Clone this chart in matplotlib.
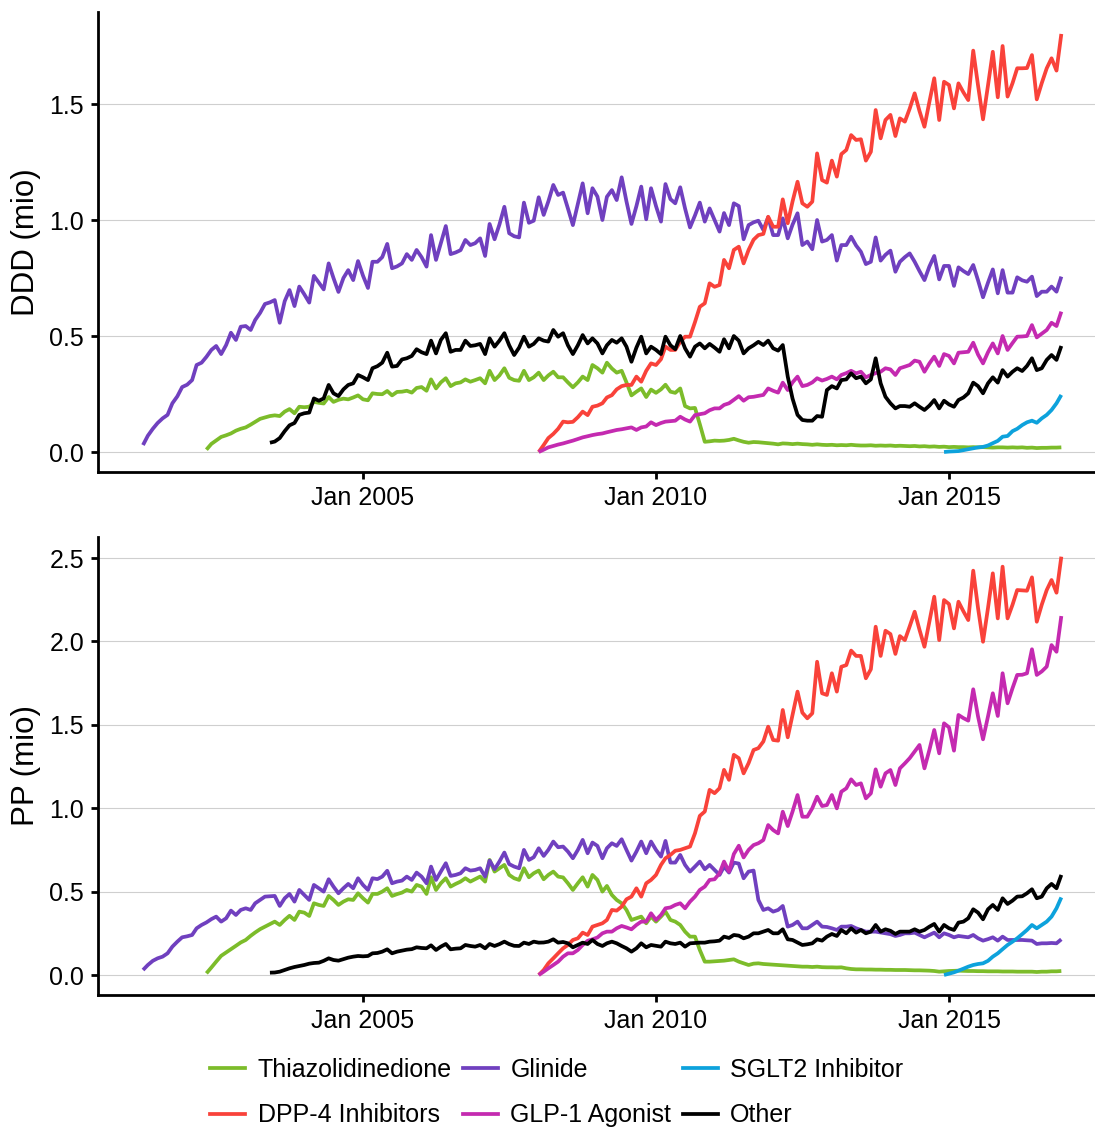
import numpy as np
import pandas as pd
import matplotlib
matplotlib.use("Agg")
import matplotlib.pyplot as plt
import matplotlib.dates as mdates
from matplotlib.lines import Line2D

plt.rcParams['font.family'] = ['Liberation Sans', 'DejaVu Sans']

SERIES = ["Thiazolidinedione", "Glinide", "SGLT2 Inhibitor",
          "DPP-4 Inhibitors", "GLP-1 Agonist", "Other"]
COLORS = {"Thiazolidinedione": "#7CBC2A", "Glinide": "#7040BF",
          "SGLT2 Inhibitor": "#0DA2DC", "DPP-4 Inhibitors": "#F9423A",
          "GLP-1 Agonist": "#C42AB0", "Other": "#000000"}
# first month of each series (monthly data, first of month)
START = {"Thiazolidinedione": "2002-05-01", "Glinide": "2001-04-01",
         "SGLT2 Inhibitor": "2014-12-01", "DPP-4 Inhibitors": "2008-01-01",
         "GLP-1 Agonist": "2008-01-01", "Other": "2003-06-01"}

# ---------------- DDD (mio) ----------------
DDD_THIAZO = [
    0.01, 0.035, 0.05, 0.065, 0.072, 0.08, 0.092, 0.10,
    0.106, 0.118, 0.13, 0.143, 0.149, 0.155, 0.158, 0.155, 0.174, 0.185, 0.167, 0.195,
    0.193, 0.195, 0.216, 0.212, 0.209, 0.237, 0.216, 0.225, 0.230, 0.227, 0.235, 0.244,
    0.227, 0.223, 0.253, 0.250, 0.249, 0.263, 0.244, 0.259, 0.26, 0.264, 0.256, 0.276,
    0.28, 0.264, 0.313, 0.274, 0.30, 0.318, 0.284, 0.296, 0.30, 0.313, 0.303, 0.31,
    0.318, 0.296, 0.350, 0.310, 0.33, 0.361, 0.32, 0.31, 0.307, 0.350, 0.310, 0.322,
    0.342, 0.310, 0.33, 0.346, 0.322, 0.322, 0.30, 0.279, 0.30, 0.325, 0.310, 0.375,
    0.361, 0.342, 0.385, 0.36, 0.342, 0.35, 0.30, 0.244, 0.26, 0.274, 0.237, 0.269,
    0.255, 0.27, 0.290, 0.26, 0.255, 0.274, 0.198, 0.188, 0.19, 0.12, 0.044, 0.046,
    0.049, 0.048, 0.049, 0.052, 0.057, 0.05, 0.044, 0.040, 0.043, 0.042, 0.040, 0.038,
    0.036, 0.033, 0.037, 0.036, 0.034, 0.036, 0.034, 0.033, 0.031, 0.033, 0.031, 0.03,
    0.031, 0.029, 0.03, 0.029, 0.031, 0.029, 0.028, 0.028, 0.029, 0.027, 0.028, 0.027,
    0.028, 0.026, 0.027, 0.026, 0.025, 0.026, 0.024, 0.025, 0.023, 0.024, 0.022, 0.023,
    0.021, 0.022, 0.021, 0.021, 0.02, 0.021, 0.02, 0.021, 0.02, 0.019, 0.02, 0.02,
    0.019, 0.02, 0.019, 0.02, 0.018, 0.019, 0.017, 0.018, 0.018, 0.019, 0.019, 0.02]
DDD_GLINIDE = [
    0.03, 0.07, 0.10, 0.125, 0.145, 0.16, 0.21, 0.24, 0.28,
    0.29, 0.31, 0.375, 0.385, 0.41, 0.44, 0.457, 0.422, 0.461, 0.514, 0.483, 0.540,
    0.543, 0.526, 0.569, 0.60, 0.638, 0.645, 0.655, 0.557, 0.65, 0.698, 0.629, 0.713,
    0.68, 0.644, 0.759, 0.73, 0.701, 0.813, 0.75, 0.690, 0.75, 0.784, 0.741, 0.823,
    0.76, 0.707, 0.820, 0.820, 0.84, 0.897, 0.792, 0.80, 0.813, 0.853, 0.828, 0.871,
    0.84, 0.799, 0.935, 0.828, 0.90, 0.974, 0.853, 0.86, 0.87, 0.914, 0.892, 0.90,
    0.921, 0.845, 0.983, 0.917, 0.98, 1.057, 0.943, 0.93, 0.925, 1.075, 0.988, 0.997,
    1.098, 1.022, 1.08, 1.151, 1.108, 1.118, 1.05, 0.978, 1.07, 1.158, 1.029, 1.137,
    1.101, 1.0, 1.10, 1.129, 1.086, 1.184, 1.08, 0.983, 1.06, 1.144, 1.003, 1.137,
    1.06, 0.993, 1.155, 1.09, 1.072, 1.141, 1.05, 0.968, 1.02, 1.075, 0.993, 1.05,
    1.0, 0.95, 1.03, 0.978, 1.072, 1.06, 0.917, 0.978, 0.99, 0.997, 0.957, 1.012,
    0.935, 0.935, 1.007, 0.921, 0.98, 1.029, 0.892, 0.907, 0.874, 1.0, 0.907, 0.914,
    0.935, 0.825, 0.892, 0.892, 0.928, 0.89, 0.863, 0.810, 0.82, 0.925, 0.825, 0.85,
    0.868, 0.777, 0.82, 0.84, 0.856, 0.82, 0.78, 0.741, 0.80, 0.845, 0.744, 0.802,
    0.802, 0.716, 0.796, 0.78, 0.767, 0.806, 0.74, 0.667, 0.73, 0.787, 0.684, 0.784,
    0.687, 0.687, 0.753, 0.74, 0.734, 0.756, 0.672, 0.691, 0.691, 0.713, 0.691, 0.756]
DDD_SGLT2 = [
    0.0,
    0.002, 0.003, 0.004, 0.008, 0.012, 0.016, 0.02, 0.022, 0.028, 0.038, 0.048, 0.066,
    0.069, 0.09, 0.10, 0.116, 0.128, 0.135, 0.126, 0.145, 0.16, 0.181, 0.21, 0.246]
DDD_DPP4 = [
    0.0, 0.03, 0.06, 0.078, 0.10, 0.131, 0.128, 0.13, 0.15, 0.174, 0.159, 0.195,
    0.20, 0.21, 0.235, 0.245, 0.270, 0.284, 0.289, 0.289, 0.325, 0.303, 0.35, 0.382,
    0.375, 0.40, 0.454, 0.440, 0.440, 0.475, 0.497, 0.497, 0.56, 0.626, 0.641, 0.727,
    0.712, 0.72, 0.828, 0.792, 0.871, 0.885, 0.813, 0.871, 0.915, 0.935, 0.94, 1.014,
    0.971, 0.971, 1.089, 0.986, 1.08, 1.165, 1.072, 1.057, 1.079, 1.287, 1.172, 1.161,
    1.256, 1.187, 1.284, 1.302, 1.366, 1.345, 1.348, 1.256, 1.294, 1.474, 1.352, 1.431,
    1.453, 1.362, 1.438, 1.424, 1.48, 1.546, 1.47, 1.402, 1.51, 1.611, 1.431, 1.596,
    1.582, 1.481, 1.589, 1.55, 1.517, 1.730, 1.58, 1.434, 1.58, 1.725, 1.529, 1.750,
    1.532, 1.59, 1.654, 1.654, 1.655, 1.711, 1.520, 1.59, 1.654, 1.697, 1.644, 1.802]
DDD_GLP1 = [
    0.0, 0.01, 0.02, 0.026, 0.032, 0.037, 0.043, 0.049, 0.056, 0.063, 0.068, 0.073,
    0.077, 0.080, 0.085, 0.09, 0.095, 0.098, 0.102, 0.106, 0.095, 0.106, 0.11, 0.128,
    0.116, 0.125, 0.131, 0.133, 0.135, 0.152, 0.14, 0.131, 0.159, 0.163, 0.167, 0.18,
    0.188, 0.188, 0.203, 0.21, 0.225, 0.241, 0.221, 0.236, 0.238, 0.242, 0.246, 0.274,
    0.264, 0.256, 0.299, 0.267, 0.30, 0.325, 0.284, 0.289, 0.30, 0.318, 0.308, 0.315,
    0.325, 0.313, 0.332, 0.34, 0.350, 0.339, 0.346, 0.322, 0.332, 0.34, 0.346, 0.361,
    0.356, 0.332, 0.361, 0.368, 0.375, 0.394, 0.389, 0.346, 0.382, 0.411, 0.371, 0.422,
    0.414, 0.382, 0.428, 0.43, 0.432, 0.471, 0.42, 0.382, 0.43, 0.468, 0.425, 0.5,
    0.440, 0.47, 0.497, 0.498, 0.5, 0.547, 0.494, 0.51, 0.526, 0.557, 0.543, 0.605]
DDD_OTHER = [
    0.040, 0.045, 0.06, 0.09, 0.115, 0.125, 0.16,
    0.167, 0.17, 0.231, 0.221, 0.231, 0.289, 0.253, 0.241, 0.270, 0.289, 0.296, 0.332,
    0.322, 0.310, 0.361, 0.37, 0.385, 0.428, 0.368, 0.371, 0.399, 0.404, 0.414, 0.443,
    0.43, 0.422, 0.480, 0.425, 0.483, 0.512, 0.432, 0.44, 0.44, 0.480, 0.457, 0.46,
    0.466, 0.422, 0.490, 0.454, 0.48, 0.512, 0.46, 0.418, 0.45, 0.497, 0.454, 0.466,
    0.490, 0.48, 0.476, 0.526, 0.497, 0.512, 0.46, 0.422, 0.46, 0.504, 0.468, 0.490,
    0.468, 0.425, 0.46, 0.483, 0.471, 0.490, 0.454, 0.389, 0.45, 0.497, 0.425, 0.454,
    0.44, 0.422, 0.497, 0.46, 0.443, 0.5, 0.447, 0.411, 0.454, 0.468, 0.447, 0.466,
    0.45, 0.432, 0.486, 0.447, 0.5, 0.48, 0.425, 0.447, 0.46, 0.475, 0.461, 0.480,
    0.447, 0.437, 0.461, 0.325, 0.23, 0.16, 0.138, 0.135, 0.135, 0.155, 0.152, 0.267,
    0.284, 0.274, 0.310, 0.313, 0.339, 0.318, 0.325, 0.296, 0.313, 0.404, 0.296, 0.238,
    0.21, 0.188, 0.198, 0.198, 0.195, 0.21, 0.195, 0.181, 0.20, 0.224, 0.188, 0.221,
    0.205, 0.195, 0.224, 0.235, 0.253, 0.299, 0.284, 0.253, 0.296, 0.322, 0.299, 0.353,
    0.325, 0.346, 0.361, 0.349, 0.371, 0.404, 0.353, 0.361, 0.397, 0.418, 0.397, 0.457]

# ---------------- PP (mio) ----------------
PP_THIAZO = [
    0.01, 0.045, 0.08, 0.115, 0.135, 0.155, 0.175, 0.195,
    0.21, 0.235, 0.255, 0.275, 0.29, 0.305, 0.320, 0.300, 0.330, 0.355, 0.330, 0.380,
    0.374, 0.354, 0.430, 0.42, 0.414, 0.474, 0.45, 0.420, 0.44, 0.454, 0.450, 0.490,
    0.46, 0.434, 0.486, 0.486, 0.50, 0.520, 0.474, 0.485, 0.494, 0.510, 0.500, 0.540,
    0.53, 0.486, 0.586, 0.510, 0.55, 0.580, 0.530, 0.546, 0.56, 0.580, 0.560, 0.575,
    0.590, 0.560, 0.690, 0.620, 0.64, 0.660, 0.60, 0.58, 0.570, 0.640, 0.586, 0.610,
    0.626, 0.574, 0.60, 0.620, 0.590, 0.585, 0.55, 0.510, 0.55, 0.586, 0.530, 0.600,
    0.570, 0.500, 0.534, 0.48, 0.45, 0.430, 0.390, 0.33, 0.34, 0.350, 0.310, 0.350,
    0.320, 0.35, 0.380, 0.33, 0.320, 0.30, 0.260, 0.230, 0.230, 0.15, 0.080, 0.08,
    0.082, 0.084, 0.086, 0.09, 0.094, 0.08, 0.07, 0.06, 0.068, 0.07, 0.066, 0.064,
    0.062, 0.06, 0.058, 0.056, 0.054, 0.052, 0.05, 0.05, 0.048, 0.05, 0.047, 0.046,
    0.046, 0.045, 0.046, 0.04, 0.036, 0.034, 0.034, 0.033, 0.033, 0.032, 0.032, 0.031,
    0.031, 0.030, 0.03, 0.03, 0.029, 0.028, 0.028, 0.027, 0.026, 0.024, 0.02, 0.022,
    0.024, 0.025, 0.026, 0.025, 0.024, 0.024, 0.023, 0.023, 0.022, 0.022, 0.022, 0.021,
    0.021, 0.021, 0.02, 0.02, 0.02, 0.02, 0.018, 0.02, 0.02, 0.022, 0.022, 0.024]
PP_GLINIDE = [
    0.03, 0.06, 0.085, 0.10, 0.11, 0.13, 0.17, 0.20, 0.226,
    0.232, 0.240, 0.28, 0.30, 0.315, 0.335, 0.350, 0.320, 0.340, 0.386, 0.360, 0.39,
    0.40, 0.39, 0.43, 0.45, 0.47, 0.472, 0.474, 0.414, 0.46, 0.486, 0.440, 0.510,
    0.48, 0.450, 0.540, 0.52, 0.500, 0.574, 0.53, 0.490, 0.52, 0.546, 0.520, 0.580,
    0.54, 0.510, 0.580, 0.575, 0.59, 0.625, 0.550, 0.56, 0.566, 0.590, 0.570, 0.614,
    0.59, 0.550, 0.650, 0.570, 0.62, 0.670, 0.594, 0.60, 0.61, 0.640, 0.626, 0.63,
    0.640, 0.590, 0.686, 0.634, 0.68, 0.734, 0.665, 0.65, 0.640, 0.750, 0.690, 0.706,
    0.760, 0.714, 0.75, 0.800, 0.766, 0.77, 0.74, 0.700, 0.75, 0.810, 0.730, 0.794,
    0.774, 0.700, 0.76, 0.790, 0.774, 0.814, 0.75, 0.686, 0.74, 0.800, 0.730, 0.800,
    0.75, 0.710, 0.804, 0.674, 0.674, 0.720, 0.66, 0.620, 0.65, 0.680, 0.634, 0.660,
    0.63, 0.600, 0.65, 0.614, 0.674, 0.668, 0.580, 0.620, 0.626, 0.45, 0.390, 0.400,
    0.380, 0.39, 0.414, 0.290, 0.30, 0.320, 0.280, 0.280, 0.30, 0.320, 0.290, 0.288,
    0.28, 0.270, 0.290, 0.29, 0.294, 0.28, 0.270, 0.260, 0.26, 0.260, 0.255, 0.250,
    0.245, 0.234, 0.24, 0.250, 0.25, 0.254, 0.24, 0.226, 0.24, 0.254, 0.226, 0.250,
    0.24, 0.226, 0.234, 0.23, 0.226, 0.240, 0.22, 0.206, 0.215, 0.226, 0.206, 0.230,
    0.210, 0.21, 0.21, 0.210, 0.208, 0.206, 0.186, 0.19, 0.190, 0.192, 0.190, 0.214]
PP_SGLT2 = [
    0.0,
    0.008, 0.016, 0.026, 0.038, 0.05, 0.06, 0.066, 0.07, 0.085, 0.11, 0.13, 0.155,
    0.18, 0.20, 0.22, 0.245, 0.27, 0.30, 0.28, 0.30, 0.32, 0.35, 0.40, 0.465]
PP_DPP4 = [
    0.0, 0.03, 0.07, 0.10, 0.13, 0.16, 0.18, 0.21, 0.22, 0.254, 0.24, 0.29,
    0.30, 0.31, 0.33, 0.39, 0.386, 0.41, 0.454, 0.470, 0.52, 0.47, 0.55, 0.570,
    0.60, 0.66, 0.70, 0.72, 0.745, 0.75, 0.76, 0.77, 0.85, 0.954, 0.980, 1.110,
    1.09, 1.12, 1.230, 1.170, 1.320, 1.30, 1.209, 1.27, 1.349, 1.36, 1.40, 1.489,
    1.409, 1.405, 1.589, 1.425, 1.56, 1.699, 1.573, 1.539, 1.569, 1.878, 1.689, 1.679,
    1.809, 1.699, 1.848, 1.858, 1.945, 1.913, 1.913, 1.779, 1.833, 2.088, 1.913, 2.064,
    2.044, 1.925, 2.032, 2.008, 2.09, 2.178, 2.07, 1.968, 2.12, 2.268, 2.008, 2.248,
    2.224, 2.078, 2.238, 2.18, 2.128, 2.424, 2.2, 1.998, 2.2, 2.408, 2.138, 2.448,
    2.138, 2.22, 2.308, 2.306, 2.304, 2.384, 2.118, 2.22, 2.308, 2.368, 2.292, 2.508]
PP_GLP1 = [
    0.0, 0.02, 0.04, 0.06, 0.08, 0.11, 0.13, 0.13, 0.15, 0.18, 0.205, 0.214,
    0.225, 0.25, 0.26, 0.26, 0.28, 0.294, 0.285, 0.274, 0.30, 0.320, 0.320, 0.370,
    0.33, 0.36, 0.400, 0.405, 0.42, 0.43, 0.400, 0.44, 0.47, 0.510, 0.530, 0.570,
    0.574, 0.610, 0.680, 0.620, 0.725, 0.775, 0.705, 0.75, 0.779, 0.79, 0.809, 0.899,
    0.869, 0.849, 0.979, 0.893, 0.98, 1.079, 0.949, 0.949, 1.0, 1.069, 1.013, 1.019,
    1.079, 0.999, 1.099, 1.119, 1.173, 1.139, 1.149, 1.059, 1.089, 1.233, 1.129, 1.209,
    1.229, 1.139, 1.239, 1.269, 1.30, 1.34, 1.379, 1.239, 1.35, 1.469, 1.329, 1.509,
    1.485, 1.345, 1.559, 1.54, 1.525, 1.713, 1.55, 1.413, 1.55, 1.689, 1.553, 1.809,
    1.629, 1.72, 1.799, 1.80, 1.809, 1.953, 1.799, 1.82, 1.849, 1.978, 1.938, 2.152]
PP_OTHER = [
    0.014, 0.015, 0.02, 0.03, 0.04, 0.048, 0.054,
    0.06, 0.068, 0.072, 0.074, 0.085, 0.100, 0.09, 0.086, 0.095, 0.104, 0.11, 0.114,
    0.112, 0.114, 0.130, 0.132, 0.14, 0.154, 0.130, 0.14, 0.146, 0.152, 0.155, 0.166,
    0.162, 0.160, 0.178, 0.150, 0.17, 0.186, 0.154, 0.158, 0.16, 0.180, 0.174, 0.17,
    0.180, 0.160, 0.186, 0.174, 0.185, 0.200, 0.185, 0.175, 0.174, 0.194, 0.186, 0.20,
    0.194, 0.195, 0.20, 0.214, 0.194, 0.198, 0.19, 0.166, 0.18, 0.194, 0.186, 0.210,
    0.186, 0.174, 0.19, 0.200, 0.19, 0.174, 0.16, 0.140, 0.16, 0.190, 0.166, 0.180,
    0.175, 0.170, 0.200, 0.19, 0.186, 0.194, 0.170, 0.190, 0.192, 0.194, 0.194, 0.200,
    0.202, 0.206, 0.230, 0.222, 0.240, 0.236, 0.220, 0.23, 0.250, 0.250, 0.26, 0.270,
    0.250, 0.250, 0.274, 0.214, 0.210, 0.195, 0.180, 0.184, 0.19, 0.214, 0.206, 0.230,
    0.246, 0.234, 0.270, 0.250, 0.280, 0.254, 0.270, 0.250, 0.260, 0.300, 0.260, 0.274,
    0.265, 0.246, 0.26, 0.26, 0.260, 0.274, 0.26, 0.270, 0.29, 0.306, 0.260, 0.300,
    0.28, 0.270, 0.314, 0.32, 0.340, 0.394, 0.374, 0.334, 0.394, 0.420, 0.390, 0.460,
    0.426, 0.446, 0.470, 0.472, 0.49, 0.514, 0.460, 0.470, 0.520, 0.546, 0.520, 0.600]

PANELS = [
    ("DDD (mio)", {"Thiazolidinedione": DDD_THIAZO, "Glinide": DDD_GLINIDE,
                   "SGLT2 Inhibitor": DDD_SGLT2, "DPP-4 Inhibitors": DDD_DPP4,
                   "GLP-1 Agonist": DDD_GLP1, "Other": DDD_OTHER},
     [0.0, 0.5, 1.0, 1.5], (-0.0862, 1.8966)),
    ("PP (mio)", {"Thiazolidinedione": PP_THIAZO, "Glinide": PP_GLINIDE,
                  "SGLT2 Inhibitor": PP_SGLT2, "DPP-4 Inhibitors": PP_DPP4,
                  "GLP-1 Agonist": PP_GLP1, "Other": PP_OTHER},
     [0.0, 0.5, 1.0, 1.5, 2.0, 2.5], (-0.1199, 2.626)),
]
XTICKS = ["2005-01-01", "2010-01-01", "2015-01-01"]

W, H = 1095, 1127
fig = plt.figure(figsize=(W / 100, H / 100), dpi=100)

# layout in pixels
AX_LEFT = 98
panel_px = [(12, 472), (537, 995)]  # (top, bottom)

d05 = mdates.date2num(pd.Timestamp("2005-01-01"))
d15 = mdates.date2num(pd.Timestamp("2015-01-01"))
ppd = (949 - 363) / (d15 - d05)
xlo = d05 - (363 - AX_LEFT) / ppd
xhi = d05 + (W - 363) / ppd

FS = 18
LW = 2.7
for (ylab, data, yticks, ylim), (ptop, pbot) in zip(PANELS, panel_px):
    ax = fig.add_axes([AX_LEFT / W, 1 - pbot / H, (W - AX_LEFT) / W, (pbot - ptop) / H])
    for name in SERIES:
        vals = data[name]
        dates = pd.date_range(START[name], periods=len(vals), freq="MS")
        ax.plot(dates, vals, color=COLORS[name], lw=LW, solid_joinstyle="round",
                solid_capstyle="butt", label=name)
    ax.set_ylim(*ylim)
    ax.set_xlim(xlo, xhi)
    ax.set_yticks(yticks)
    ax.set_yticklabels([f"{t:.1f}" for t in yticks])
    ax.set_xticks([mdates.date2num(pd.Timestamp(t)) for t in XTICKS])
    ax.set_xticklabels([pd.Timestamp(t).strftime("%b %Y") for t in XTICKS])
    ax.grid(axis="y", color="#CFCFCF", lw=0.8)
    ax.set_axisbelow(True)
    for s in ["top", "right"]:
        ax.spines[s].set_visible(False)
    for s in ["left", "bottom"]:
        ax.spines[s].set_linewidth(2.0)
        ax.spines[s].set_color("black")
    ax.tick_params(axis="both", length=5, width=2.0, labelsize=FS,
                   colors="black", pad=5)
    ax.set_ylabel(ylab, fontsize=22.5)
    ax.yaxis.set_label_coords(-0.057, 0.5)

handles = {n: Line2D([], [], color=COLORS[n], lw=LW) for n in SERIES}
order = ["Thiazolidinedione", "DPP-4 Inhibitors", "Glinide", "GLP-1 Agonist",
         "SGLT2 Inhibitor", "Other"]
fig.legend([handles[n] for n in order], order, ncol=3, loc="upper left",
           bbox_to_anchor=(210 / W, 1 - 1058 / H), frameon=False, fontsize=FS,
           handlelength=1.4, handletextpad=0.5, columnspacing=0.45,
           labelspacing=0.85, borderpad=0, borderaxespad=0)

fig.savefig("out.png", dpi=100)
